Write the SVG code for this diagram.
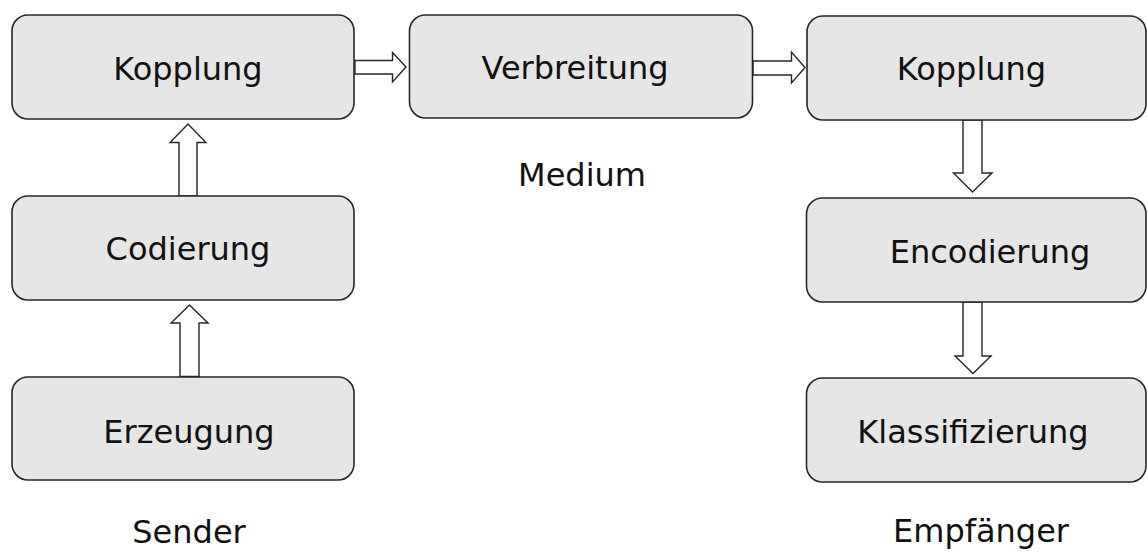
<svg xmlns="http://www.w3.org/2000/svg" width="1147" height="552" viewBox="0 0 1147 552">
<style>
.box{fill:#e6e6e6;stroke:#262626;stroke-width:1.6}
.arr{fill:#ffffff;stroke:#262626;stroke-width:1.4;stroke-linejoin:miter}
text{font-family:"DejaVu Sans",Verdana,sans-serif;font-size:32px;fill:#111;text-anchor:middle}
</style>
<rect width="1147" height="552" fill="#ffffff"/>
<g id="connectors">
<path class="arr" d="M355,60.5 H392.5 V52.5 L406,67 L392.5,82 V74 H355 Z"/>
<path class="arr" d="M753,61 H791.5 V52 L805,67.5 L791.5,83 V75 H753 Z"/>
<path class="arr" d="M179,196 V142.5 H170 L188,124 L206,142.5 H197 V196 Z"/>
<path class="arr" d="M180,376.5 V323 H171 L189.5,305 L208,323 H199 V376.5 Z"/>
<path class="arr" d="M963,120 V173 H953.5 L972.5,192 L992,173 H982 V120 Z"/>
<path class="arr" d="M963,302 V356 H955 L973,373.5 L991,356 H982 V302 Z"/>
</g>
<g id="sender-kopplung"><rect class="box" x="12" y="15" width="342" height="104" rx="16"/><text x="188" y="80">Kopplung</text></g>
<g id="codierung"><rect class="box" x="12" y="196" width="342" height="104" rx="16"/><text x="188" y="260">Codierung</text></g>
<g id="erzeugung"><rect class="box" x="12" y="377" width="342" height="103" rx="16"/><text x="189" y="443">Erzeugung</text></g>
<g id="verbreitung"><rect class="box" x="409.5" y="15" width="343" height="103" rx="16"/><text x="575" y="79">Verbreitung</text></g>
<g id="empf-kopplung"><rect class="box" x="807" y="16" width="339" height="104" rx="16"/><text x="971.5" y="80">Kopplung</text></g>
<g id="encodierung"><rect class="box" x="806.5" y="198" width="339.5" height="104" rx="16"/><text x="990" y="263">Encodierung</text></g>
<g id="klassifizierung"><rect class="box" x="806.5" y="378" width="339.5" height="104" rx="16"/><text x="973" y="443">Klassifizierung</text></g>
<g id="labels">
<text x="582" y="186">Medium</text>
<text x="189" y="543">Sender</text>
<text x="981" y="542">Empfänger</text>
</g>
</svg>
